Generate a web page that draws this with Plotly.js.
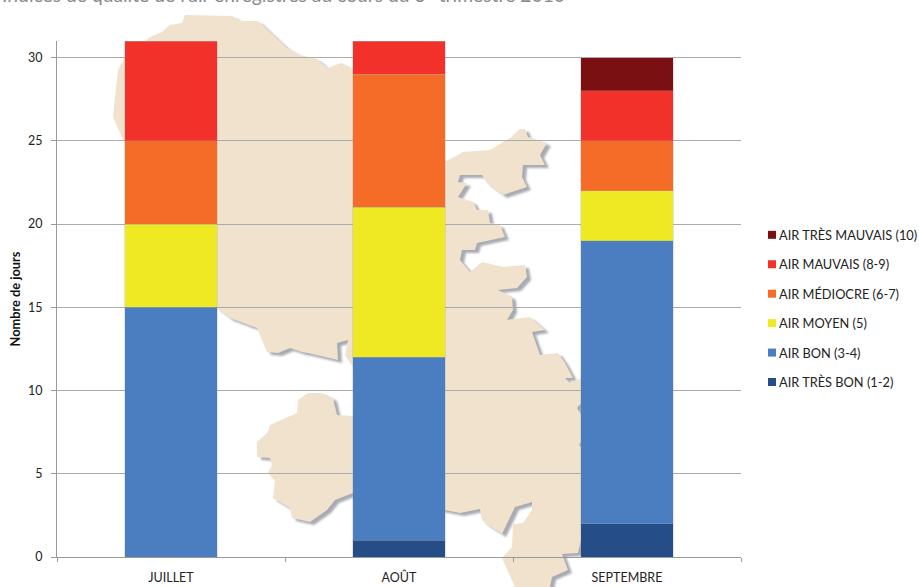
<!DOCTYPE html>
<html><head><meta charset="utf-8">
<script src="https://cdn.plot.ly/plotly-3.0.1.min.js"></script>
<style>html,body{margin:0;padding:0;background:#fff;overflow:hidden}#c{width:919px;height:587px}</style>
</head><body><div id="c"></div>
<script>
const months = ['JUILLET','AOÛT','SEPTEMBRE'];
const tresBon = [0,1,2];
const bon = [15,11,17];
const moyen = [5,9,3];
const mediocre = [5,8,3];
const mauvais = [6,2,3];
const tresMauvais = [0,0,2];
const seriesNames = ['AIR TRÈS BON (1-2)','AIR BON (3-4)','AIR MOYEN (5)','AIR MÉDIOCRE (6-7)','AIR MAUVAIS (8-9)','AIR TRÈS MAUVAIS (10)'];
const seriesValues = [tresBon,bon,moyen,mediocre,mauvais,tresMauvais];
const seriesColors = ['#254E88','#4A7EC1','#EEE923','#F46C28','#F2312A','#7A1012'];
const yTicks = [0,5,10,15,20,25,30];
const yTitle = 'Nombre de jours';
const chartTitle = "Indices de qualité de l'air enregistrés au cours du 3° trimestre 2010";

// Decorative background map outline (page pixels)
const mapOutline = [[185,15],[233,16],[240,21],[258,21],[287,48],[300,55],[317,59],[325,66],[328,68],[338,64],[342,63],[353,70],[400,120],[445,162],[463,152],[490,150],[510,138],[520,129],[525,129],[528,137],[547,143],[540,155],[545,165],[523,165],[522,177],[527,187],[503,195],[487,183],[482,175],[460,175],[458,182],[467,183],[458,197],[473,202],[477,210],[488,210],[490,223],[500,225],[505,237],[477,243],[475,250],[462,250],[460,260],[470,272],[482,262],[503,267],[525,265],[527,277],[517,288],[498,290],[512,297],[513,310],[507,320],[530,317],[545,330],[532,332],[540,355],[558,353],[565,363],[573,378],[565,378],[570,383],[582,378],[582,402],[577,408],[582,416],[582,440],[579,445],[582,448],[582,536],[578,553],[562,554],[568,570],[552,577],[550,587],[515,587],[502,558],[512,547],[513,524],[523,523],[532,510],[532,502],[515,507],[502,534],[488,525],[482,520],[480,509],[460,513],[445,510],[353,493],[335,500],[327,510],[310,522],[292,518],[290,508],[273,498],[275,480],[268,473],[272,465],[270,458],[257,457],[257,442],[268,432],[270,425],[297,413],[298,400],[308,393],[322,393],[333,398],[337,415],[353,416],[375,390],[353,367],[345,355],[348,340],[337,343],[338,360],[308,353],[302,352],[290,348],[278,353],[267,352],[257,328],[230,318],[217,308],[150,200],[120,133],[113,117],[115,97],[118,70],[125,57],[143,43],[150,37],[162,32],[170,25],[182,23]];

const L=57,R=178,T=41,B=30,W=919,H=587;
function mapPath(dx,dy){
  return mapOutline.map((p,i)=>{
    const x=(p[0]+dx-L)/(W-L-R), y=(H-B-p[1]-dy)/(H-T-B);
    return (i?'L':'M')+x.toFixed(5)+','+y.toFixed(5);
  }).join('')+'Z';
}
const font='Lato, "Open Sans", sans-serif';
const traces = seriesNames.map((n,i)=>({
  type:'bar',name:n,x:months,y:seriesValues[i],legendgroup:'g'+i,legendrank:(seriesNames.length-i)*100,
  marker:{color:seriesColors[i],line:{color:'rgba(165,165,165,0.3)',width:1}},
  hoverinfo:'y+name'
}));
const layout={
  width:W,height:H,barmode:'stack',bargap:0.596,
  margin:{l:L,r:R,t:T,b:B,pad:0,autoexpand:false},
  paper_bgcolor:'#fff',plot_bgcolor:'rgba(0,0,0,0)',
  font:{family:font,size:12,color:'#222'},
  title:{text:chartTitle,font:{family:font,size:19.3,color:'#8a8a8a'},x:565/W,xanchor:'right',xref:'container',y:1-2/H,yref:'container',yanchor:'bottom',pad:{t:0,b:0,l:0,r:0},automargin:false},
  xaxis:{type:'category',tickson:'boundaries',ticks:'outside',ticklen:4,tickcolor:'#999',showline:true,linecolor:'#999',linewidth:1,showgrid:false,zeroline:false,tickfont:{family:font,size:12.5,color:'#222'},ticklabelstandoff:9,automargin:false},
  yaxis:{range:[0,31],tickvals:yTicks,ticks:'outside',ticklen:5,tickcolor:'#999',showline:true,linecolor:'#999',linewidth:1,gridcolor:'#ababab',gridwidth:1,zeroline:false,tickfont:{family:font,size:12.5,color:'#222'},ticklabelstandoff:6,automargin:false,
    title:{text:'<b>'+yTitle+'</b>',font:{family:font,size:12.8,color:'#111'},standoff:4}},
  showlegend:true,
  legend:{x:(739-L)/(W-L-R),xref:'paper',y:(H-B-220)/(H-T-B),yanchor:'top',traceorder:'grouped',tracegroupgap:9.8,font:{family:font,size:12.8,color:'#222'},bgcolor:'rgba(0,0,0,0)',borderwidth:0,itemclick:false,itemdoubleclick:false},
  shapes:[
    {type:'path',xref:'paper',yref:'paper',path:mapPath(4,3),fillcolor:'#a9abb3',line:{width:0},layer:'below',name:'mapshadow'},
    {type:'path',xref:'paper',yref:'paper',path:mapPath(0,0),fillcolor:'#F0E2CC',line:{width:0},layer:'below',name:'map'}
  ]
};
Plotly.newPlot('c',traces,layout,{displayModeBar:false}).then(gd=>{
  // compact legend swatches as in the reference: 8px squares right next to the labels
  gd.querySelectorAll('.legend .traces .legendpoints').forEach(g=>{
    g.setAttribute('transform','translate(13,0)');
    g.querySelectorAll('path').forEach(p=>{p.setAttribute('d','M4,4H-4V-4H4Z');p.style.strokeWidth='0';});
  });
  gd.querySelectorAll('.shapelayer path').forEach(p=>{ if(p.style.fill&&p.style.fill.indexOf('169')>=0) p.style.filter='blur(1.2px)'; });
});
</script></body></html>
